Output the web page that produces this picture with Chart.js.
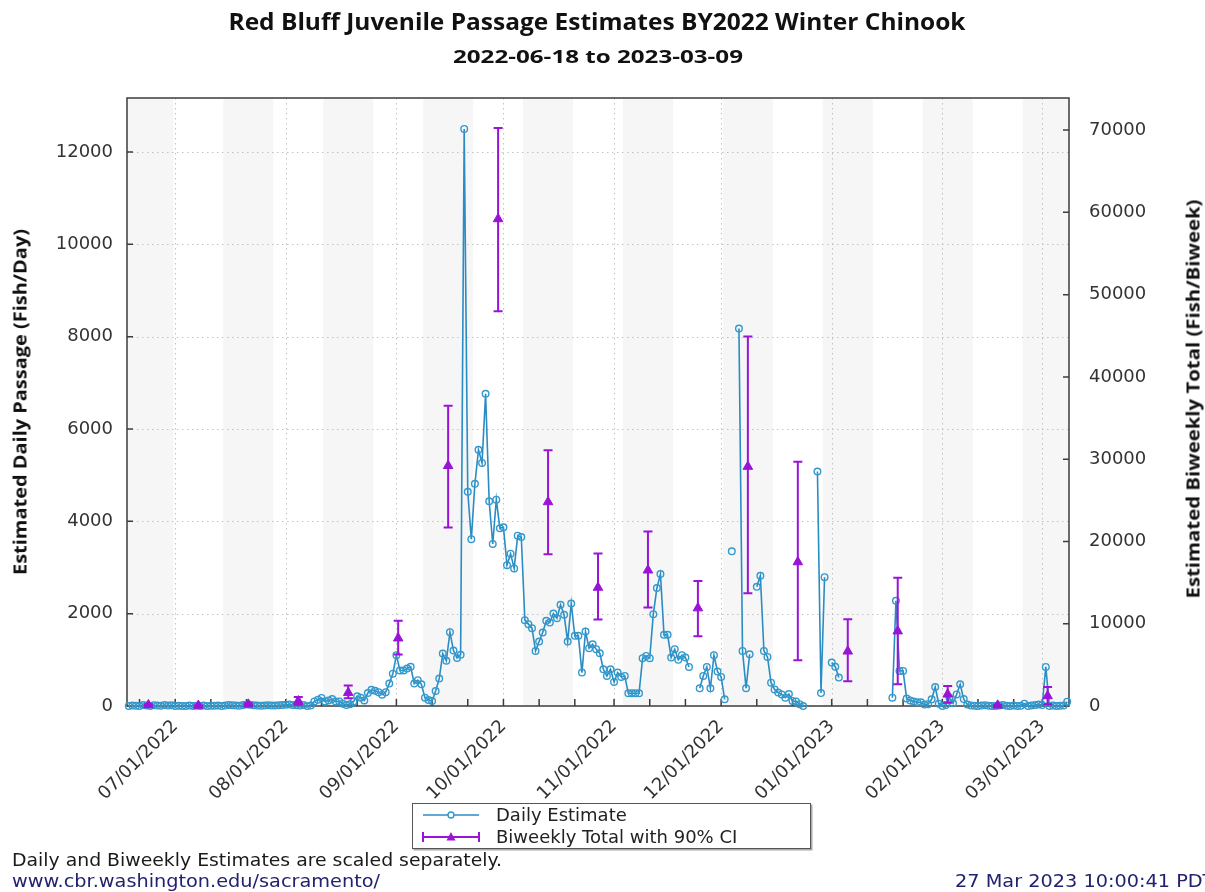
<!DOCTYPE html>
<html><head><meta charset="utf-8">
<script src="https://cdn.jsdelivr.net/npm/chart.js@4.4.1/dist/chart.umd.min.js"></script>
<style>
html,body{margin:0;padding:0;background:#fff;}
#wrap{position:relative;width:1205px;height:892px;overflow:hidden;background:#fff;}
#c{position:absolute;left:0;top:0;}
.tx{position:absolute;white-space:nowrap;line-height:1;}
#legend{position:absolute;left:412px;top:803px;width:397px;height:44px;border:1.5px solid #555;background:#fff;box-shadow:1.5px 1.5px 0 #aaa;}
#legend span{position:absolute;left:83px;font:18px 'DejaVu Sans';color:#222;line-height:1;white-space:nowrap;}
</style></head><body>
<div id="wrap">
<canvas id="c" width="1205" height="892"></canvas>
<div class="tx" data-w="737" style="left:597px;top:20px;font:bold 24px 'Open Sans';color:#111">Red Bluff Juvenile Passage Estimates BY2022 Winter Chinook</div>
<div class="tx" data-w="290" style="left:598px;top:56px;font:bold 18px 'Open Sans';color:#111">2022-06-18 to 2023-03-09</div>
<div class="tx" data-w="346" data-align="rot" style="left:20px;top:402px;font:bold 17px 'Open Sans';color:#111">Estimated Daily Passage (Fish/Day)</div>
<div class="tx" data-w="399" data-align="rot" style="left:1193px;top:399px;font:bold 17px 'Open Sans';color:#111">Estimated Biweekly Total (Fish/Biweek)</div>
<div id="legend">
<svg width="80" height="44" style="position:absolute;left:0;top:0">
<line x1="10" y1="11" x2="66" y2="11" stroke="#2b8cc4" stroke-width="1.5"/>
<circle cx="38" cy="11" r="3" fill="#fff" stroke="#3399cc" stroke-width="1.4"/>
<line x1="10" y1="33" x2="66" y2="33" stroke="#9a14d8" stroke-width="2"/>
<line x1="10" y1="28" x2="10" y2="38" stroke="#9a14d8" stroke-width="2"/>
<line x1="66" y1="28" x2="66" y2="38" stroke="#9a14d8" stroke-width="2"/>
<polygon points="38,28 42.5,36.5 33.5,36.5" fill="#9a14d8"/>
</svg>
<span style="top:2px">Daily Estimate</span>
<span style="top:24px">Biweekly Total with 90% CI</span>
</div>
<div class="tx" id="f1" data-w="490" data-align="left" style="left:12px;top:859px;font:18px 'DejaVu Sans';color:#1a1a1a">Daily and Biweekly Estimates are scaled separately.</div>
<div class="tx" id="f2" data-w="368" data-align="left" style="left:12px;top:880px;font:18px 'DejaVu Sans';color:#22226e">www.cbr.washington.edu/sacramento/</div>
<div class="tx" id="f3" data-k="f2" data-align="left" style="left:955px;top:880px;font:18px 'DejaVu Sans';color:#22226e">27 Mar 2023 10:00:41 PDT</div>
</div>
<script>
// ---------------- data ----------------
const startDate = '2022-06-18';
const dailyValues = [
 0,10,5,0,20,10,0,15,10,5,20,10,15,
 0,5,0,0,10,0,5,0,10,0,5,5,10,0,
 10,20,15,10,5,20,30,25,15,10,5,10,15,10,
 10,15,20,25,30,20,15,10,20,0,10,100,137,174,
 100,120,150,100,100,50,20,40,100,210,180,120,280,350,
 330,300,246,300,485,700,1100,770,770,810,850,485,560,470,
 180,130,110,325,593,1136,980,1600,1200,1040,1110,12500,4640,3613,
 4812,5548,5265,6764,4435,3510,4469,3850,3870,3050,3300,2980,3690,3660,
 1860,1773,1686,1194,1396,1591,1845,1808,2003,1902,2192,1975,1396,2220,
 1519,1519,723,1613,1252,1338,1230,1143,796,651,796,521,723,629,
 651,275,275,275,275,1035,1085,1035,1990,2554,2858,1541,1541,1048,
 1230,1000,1100,1050,846,null,null,383,651,846,383,1100,745,630,
 145,null,3350,null,8175,1194,384,1121,null,2582,2821,1194,1063,506,
 360,290,250,180,260,110,100,40,0,null,null,null,5080,280,
 2790,null,940,850,615,null,null,null,null,null,null,null,null,null,
 null,null,null,null,null,180,2280,760,760,160,120,100,80,80,
 30,40,145,410,50,0,20,180,60,250,470,150,30,10,
 5,0,10,15,5,0,0,10,20,5,0,10,0,5,
 50,0,10,20,30,20,846,0,10,0,5,10,93
];
const biweekStarts = ['2022-06-17','2022-07-01','2022-07-15','2022-07-29','2022-08-12','2022-08-26','2022-09-09','2022-09-23','2022-10-07','2022-10-21','2022-11-04','2022-11-18','2022-12-02','2022-12-16','2022-12-30','2023-01-13','2023-01-27','2023-02-10','2023-02-24'];
const biweekTotals = [120,50,200,600,1620,8240,29200,59200,24800,14400,16500,11900,29100,17500,6650,9100,1420,80,1220];
const biweekLower  = [60,20,110,150,950,6250,21700,47970,18450,10500,11970,8480,13700,5560,3000,2640,400,30,200];
const biweekUpper  = [200,90,320,1100,2500,10350,36500,70250,31100,18550,21200,15200,44900,29700,10550,15600,2430,140,2300];
const monthTickDates  = ['2022-07-01','2022-08-01','2022-09-01','2022-10-01','2022-11-01','2022-12-01','2023-01-01','2023-02-01','2023-03-01'];
const monthTickLabels = ['07/01/2022','08/01/2022','09/01/2022','10/01/2022','11/01/2022','12/01/2022','01/01/2023','02/01/2023','03/01/2023'];
const minorTickDays = [11,21];
const leftTicks  = [0,2000,4000,6000,8000,10000,12000];
const rightTicks = [0,10000,20000,30000,40000,50000,60000,70000];

// ---------------- helpers ----------------
const BLUE='#2b8cc4', BLUE_PT='#3399cc', PURPLE='#9a14d8';
function dayIndex(s){const a=s.split('-').map(Number),b=startDate.split('-').map(Number);
 return Math.round((Date.UTC(a[0],a[1]-1,a[2])-Date.UTC(b[0],b[1]-1,b[2]))/86400000);}
const nDays = dailyValues.length;
const xMin = -0.5, xMax = nDays - 0.5;
const majorX = monthTickDates.map(dayIndex);
const minorX = [];
['2022-06','2022-07','2022-08','2022-09','2022-10','2022-11','2022-12','2023-01','2023-02','2023-03'].forEach(m=>{
  minorTickDays.forEach(d=>{const v=dayIndex(m+'-'+d); if(v>=xMin && v<=xMax) minorX.push(v);});
});
const allXTicks = majorX.concat(minorX).sort((a,b)=>a-b);
const biweekCenters = biweekStarts.map(s=>dayIndex(s)+6.5);
const dailyData = dailyValues.map((v,i)=>({x:i,y:v}));
const biweekData = biweekTotals.map((v,i)=>({x:biweekCenters[i],y:v}));

const backPlugin = {
 id:'back',
 beforeDatasetsDraw(chart){
  const {ctx,chartArea:a,scales:{x,y}} = chart;
  ctx.save();
  ctx.beginPath(); ctx.rect(a.left,a.top,a.right-a.left,a.bottom-a.top); ctx.clip();
  ctx.fillStyle='#f6f6f6';
  biweekStarts.forEach((s,k)=>{ if(k%2) return;
    const x0=x.getPixelForValue(dayIndex(s)-0.5), x1=x.getPixelForValue(dayIndex(s)+13.5);
    ctx.fillRect(x0,a.top,x1-x0,a.bottom-a.top);});
  ctx.strokeStyle='#c2c2c2'; ctx.lineWidth=1; ctx.setLineDash([1.5,3.5]);
  leftTicks.forEach(v=>{const py=Math.round(y.getPixelForValue(v))+0.5; if(v===0) return;
    ctx.beginPath(); ctx.moveTo(a.left,py); ctx.lineTo(a.right,py); ctx.stroke();});
  majorX.forEach(v=>{const px=Math.round(x.getPixelForValue(v))+0.5;
    ctx.beginPath(); ctx.moveTo(px,a.top); ctx.lineTo(px,a.bottom); ctx.stroke();});
  ctx.restore();
  // frame and inward ticks
  const y2 = chart.scales.y2;
  ctx.save(); ctx.strokeStyle='#3c3c3c'; ctx.lineWidth=1.5; ctx.setLineDash([]);
  ctx.strokeRect(a.left,a.top,a.right-a.left,a.bottom-a.top);
  ctx.beginPath();
  allXTicks.forEach(v=>{const px=x.getPixelForValue(v); ctx.moveTo(px,a.bottom); ctx.lineTo(px,a.bottom-7);});
  leftTicks.forEach(v=>{const py=y.getPixelForValue(v); ctx.moveTo(a.left,py); ctx.lineTo(a.left+6,py);});
  rightTicks.forEach(v=>{const py=y2.getPixelForValue(v); ctx.moveTo(a.right,py); ctx.lineTo(a.right-6,py);});
  ctx.stroke(); ctx.restore();
 },
 beforeDatasetDraw(chart,args){
  if(args.index!==0) return;
  const {ctx,scales:{x,y2}} = chart;
  ctx.save(); ctx.strokeStyle=PURPLE; ctx.lineWidth=2;
  biweekLower.forEach((lo,i)=>{
    const px=x.getPixelForValue(biweekCenters[i]);
    const p0=y2.getPixelForValue(lo), p1=y2.getPixelForValue(biweekUpper[i]);
    ctx.beginPath();
    ctx.moveTo(px,p0); ctx.lineTo(px,p1);
    ctx.moveTo(px-4.5,p0); ctx.lineTo(px+4.5,p0);
    ctx.moveTo(px-4.5,p1); ctx.lineTo(px+4.5,p1);
    ctx.stroke();});
  ctx.restore();
 }
};

const tickFont = {family:'DejaVu Sans', size:18};
const plainNum = v => String(v);
new Chart(document.getElementById('c'), {
 type:'line',
 data:{datasets:[
  {label:'Biweekly Total with 90% CI', data:biweekData, yAxisID:'y2', showLine:false, clip:false,
   pointStyle:'triangle', pointRadius:5.5, pointBackgroundColor:PURPLE, pointBorderColor:PURPLE, pointBorderWidth:1},
  {label:'Daily Estimate', data:dailyData, yAxisID:'y', borderColor:BLUE, borderWidth:1.6, clip:false,
   pointRadius:3.3, pointBorderWidth:1.4, pointBorderColor:BLUE_PT, pointBackgroundColor:'rgba(255,255,255,0)',
   spanGaps:false, tension:0}
 ]},
 options:{
  responsive:false, animation:false, devicePixelRatio:1,
  layout:{padding:{top:98,left:0,right:0,bottom:0}},
  plugins:{legend:{display:false}, tooltip:{enabled:false}, title:{display:false}},
  scales:{
   x:{type:'linear', position:'bottom', min:xMin, max:xMax,
      grid:{display:false, drawTicks:false}, border:{display:false},
      afterBuildTicks(s){ s.ticks = allXTicks.map(v=>({value:v})); },
      ticks:{autoSkip:false, minRotation:45, maxRotation:45, padding:10, color:'#333', font:tickFont,
        callback(v){ const i=majorX.indexOf(v); return i>=0 ? monthTickLabels[i] : ''; }},
      afterFit(s){ s.height = 186; }},
   y:{position:'left', min:0, max:13170,
      grid:{display:false, drawTicks:false}, border:{display:false},
      afterBuildTicks(s){ s.ticks = leftTicks.map(v=>({value:v})); },
      ticks:{padding:14, color:'#333', font:tickFont, callback:plainNum},
      afterFit(s){ s.width = 127; }},
   y2:{position:'right', min:0, max:73900,
      grid:{display:false, drawTicks:false}, border:{display:false},
      afterBuildTicks(s){ s.ticks = rightTicks.map(v=>({value:v})); },
      ticks:{padding:20, color:'#333', font:tickFont, callback:plainNum},
      afterFit(s){ s.width = 136; }}
  }
 },
 plugins:[backPlugin]
});

function fit(){
 document.querySelectorAll('.tx').forEach(el=>{
  el.style.transform='none';
  const w = el.getBoundingClientRect().width;
  let k = el.dataset.w ? (+el.dataset.w)/w : 1;
  if(el.dataset.k){ k = +(document.getElementById(el.dataset.k).dataset.kk || 1); }
  el.dataset.kk = k;
  const al = el.dataset.align;
  if(al==='left'){ el.style.transformOrigin='0 50%'; el.style.transform='translateY(-50%) scaleX('+k+')'; }
  else if(al==='rot'){ el.style.transform='translate(-50%,-50%) rotate(-90deg) scaleX('+k+')'; }
  else { el.style.transform='translate(-50%,-50%) scaleX('+k+')'; }
 });
}
fit();
if(document.fonts && document.fonts.ready) document.fonts.ready.then(fit);
</script>
</body></html>
